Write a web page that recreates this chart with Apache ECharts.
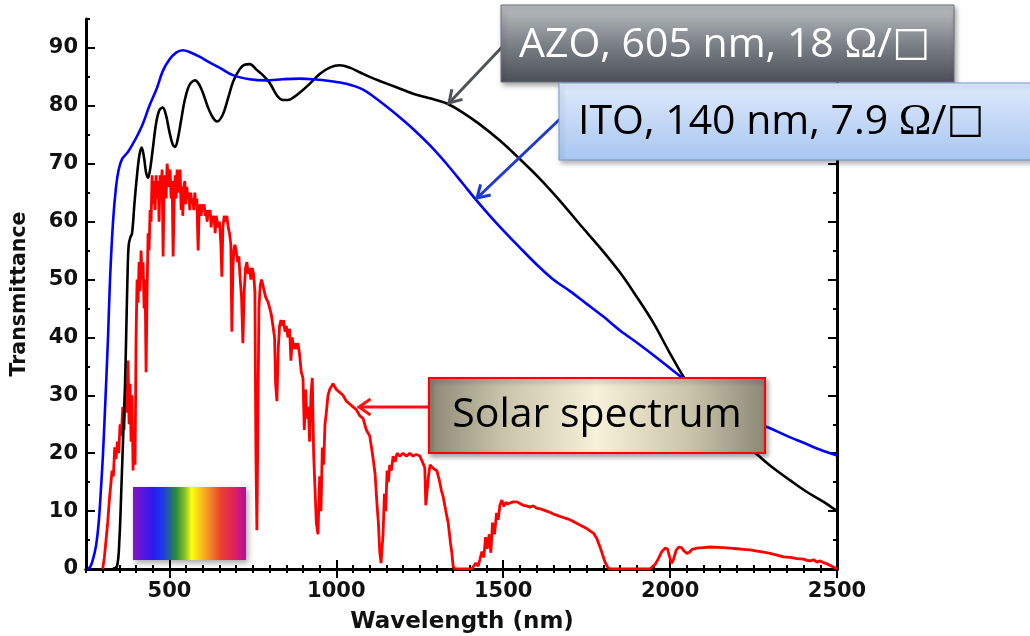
<!DOCTYPE html>
<html>
<head>
<meta charset="utf-8">
<script src="https://cdn.jsdelivr.net/npm/echarts@6/dist/echarts.min.js"></script>
<style>
html,body{margin:0;padding:0;background:#fff;}
#chart{width:1030px;height:636px;}
</style>
</head>
<body>
<div id="chart"></div>
<script>
// ---------- data ----------
const xTickLabels = [500, 1000, 1500, 2000, 2500];
const yTickLabels = [0, 10, 20, 30, 40, 50, 60, 70, 80, 90];

// ITO, 140 nm (blue)
const itoData = [
  [255,0],[262,0.3],[270,1.5],[280,4],[288,8],[295,14],[301,20],[308,29],[316,40],[322,50],[331,60],
  [340,66],[348,69],[358,70.8],[375,72],[391,73.5],[405,75],[421,77],[440,80],[462,83],[480,86],
  [500,88],[520,89.2],[540,89.6],[560,89.3],[590,88.5],[620,87.5],[650,86.6],[690,85.3],[740,84.6],
  [790,84.4],[840,84.6],[890,84.7],[930,84.6],[980,84.3],[1030,83.8],[1080,82.8],[1130,80.8],
  [1180,78.5],[1230,76],[1280,73.2],[1330,70],[1380,66.5],[1418,63.8],[1460,61],[1500,58.5],
  [1550,55.5],[1600,52.6],[1650,50],[1700,48],[1750,45.8],[1800,43.6],[1850,41.2],[1910,38.7],
  [1960,36.5],[2010,34.2],[2060,32],[2110,30],[2160,28.3],[2210,26.6],[2260,25.2],[2300,24.3],
  [2350,23.0],[2400,21.8],[2450,20.6],[2500,19.6]
];

// AZO, 605 nm (black)
const azoData = [
  [330,0],[343,0.5],[350,5],[356,14],[362,24],[367,32],[371,42],[375,52],[378,56],[383,57.3],
  [388,58],[395,63],[402,67.5],[410,71.5],[417,72.8],[424,71],[430,68.5],[436,67.6],[442,69],
  [450,72.5],[460,77],[470,79.3],[480,79.7],[490,78.3],[500,75.5],[510,73.3],[517,72.9],[525,74.3],
  [535,77.5],[546,81],[560,83.6],[577,84.4],[595,83],[615,79.8],[630,78],[643,77.3],[660,78.5],
  [675,81.2],[691,84.2],[710,86.3],[725,87.1],[741,87.2],[760,86.3],[780,85.3],[800,84],[822,81.8],
  [840,81],[855,81],[875,81.6],[891,82.3],[920,83.8],[950,85.5],[980,86.6],[1010,87],[1040,86.6],
  [1070,85.8],[1100,85],[1130,84.3],[1180,83.2],[1230,82.1],[1280,81.3],[1331,80.4],[1380,78.8],
  [1430,76.8],[1490,74],[1550,70.8],[1610,67.4],[1670,63.6],[1730,59.5],[1790,55.5],[1850,51.2],
  [1900,47],[1950,42.5],[2000,37.2],[2040,33.2],[2080,29.8],[2120,27.1],[2160,24.8],[2210,22.2],
  [2260,19.8],[2310,17.4],[2360,15.3],[2410,13.3],[2460,11.6],[2500,10]
];

// Solar spectrum (red)
const solarData = [
  [300,0],[305,2],[310,5],[315,8],[320,12],[325,15],[328,17],[332,16],[336,21],[340,19],[344,22],
  [348,20],[352,25],[356,23],[360,28],[364,24],[368,30],[372,27],[376,36],[379,25],[382,32],[385,22],
  [388,30],[391,17],[394,24],[397,18],[400,40],[403,50],[406,46],[409,53],[412,48],[415,55],[418,50],
  [421,53],[424,45],[427,50],[430,34],[433,48],[436,58],[439,55],[442,62],[445,60],[448,68],[451,63],
  [454,67],[457,62],[460,68],[463,64],[466,67],[469,60],[472,68],[475,65],[478,69],[481,54],[484,66],
  [487,68],[490,64],[493,70],[496,68],[499,66],[502,69],[505,64],[508,67],[511,54],[514,63],[517,68],
  [520,64],[523,69],[526,65],[529,67],[532,69],[535,62],[538,66],[540,61],[543,66],[546,67],[549,63],
  [552,66],[555,64],[558,65],[561,62],[564,65],[567,63],[570,64],[573,62],[576,65],[579,63],[582,64],
  [586,55],[589,62],[592,63],[595,61],[598,63],[601,62],[604,63],[607,61],[610,62],[613,60],[616,62],
  [619,61],[622,62],[625,59],[628,61],[631,60],[634,61],[637,58],[640,61],[643,60],[646,59],[650,60],
  [654,56],[657,50.5],[660,59],[664,61],[668,60],[672,61],[676,59],[680,58],[684,56],[687,41],[690,52],
  [693,55],[696,56],[700,55],[704,53],[708,54],[712,50],[716,47],[720,39],[724,48],[728,52],[732,53],
  [736,51],[740,52],[744,50],[748,52],[752,51],[756,48],[759,20],[762,6.7],[765,25],[768,45],[772,49],
  [776,50],[780,49],[784,48],[788,47],[792,47],[796,46],[800,46],[805,44],[810,44],[815,40],[818,32],
  [822,29],[826,38],[830,42],[834,43],[838,42],[842,43],[846,41],[850,42],[855,40],[860,41.5],[864,36],
  [868,40],[872,38],[876,39],[880,38],[885,39],[890,37],[895,34],[900,33],[904,24],[908,31],[912,26],
  [916,28],[920,22],[924,30],[928,33],[932,20],[936,14],[940,8],[945,6],[950,16],[954,10],[958,21],
  [962,18],[966,25],[970,27],[975,30],[980,31],[985,31.5],[990,32],[1000,31],[1010,30.5],[1020,30],
  [1030,29],[1040,28.5],[1050,28],[1060,27.5],[1070,26.5],[1080,26],[1090,24],[1100,23],[1108,20],
  [1116,16.5],[1122,11],[1126,8],[1130,3],[1134,1],[1137,0.7],[1140,6],[1144,13],[1148,10],[1152,17],
  [1156,15],[1160,18],[1165,17],[1170,19.5],[1176,18.5],[1182,20],[1190,19.5],[1200,20],[1210,19.5],
  [1220,20],[1230,19.5],[1240,19.8],[1250,19.5],[1258,18.5],[1265,17.5],[1268,11],[1272,10.7],
  [1276,16],[1281,18],[1288,17.5],[1295,17.2],[1301,17],[1308,15.5],[1315,13.5],[1320,12.5],[1328,10],
  [1335,8],[1342,4.5],[1346,2.8],[1350,0.5],[1355,0],[1405,0],[1410,0.3],[1418,1],[1425,0.5],
  [1430,1.6],[1436,3],[1442,2],[1447,5.5],[1452,3.5],[1458,6],[1463,2.8],[1468,8],[1474,6],[1480,9.7],
  [1485,8.5],[1490,11],[1496,11.9],[1502,10.8],[1508,11.5],[1514,11.2],[1520,11.4],[1530,11.6],
  [1541,11.6],[1550,11.3],[1560,11],[1570,10.9],[1580,10.7],[1590,10.9],[1600,10.5],[1610,10.4],
  [1620,10.2],[1630,10],[1640,9.8],[1650,9.5],[1660,9.3],[1670,9.1],[1680,8.9],[1690,8.7],[1700,8.5],
  [1710,8.2],[1720,7.9],[1730,7.6],[1740,7.3],[1750,7],[1760,6.6],[1770,6.2],[1780,5.3],[1790,3.8],
  [1798,2.4],[1805,1.2],[1812,0.4],[1818,0],[1940,0],[1955,0.8],[1965,1.8],[1975,3.0],[1985,3.6],
  [1992,3.5],[1998,2.2],[2004,1.0],[2010,1.6],[2018,3.2],[2026,3.8],[2034,3.7],[2042,3.1],[2050,2.7],
  [2058,2.9],[2066,3.4],[2080,3.6],[2100,3.7],[2120,3.8],[2140,3.75],[2160,3.7],[2180,3.6],[2200,3.5],
  [2220,3.4],[2240,3.3],[2260,3.1],[2280,2.9],[2300,2.7],[2320,2.4],[2340,2.1],[2360,2.0],[2380,1.8],
  [2400,1.7],[2410,1.5],[2420,1.4],[2430,1.6],[2440,1.2],[2450,1.4],[2460,1.1],[2470,0.9],[2480,0.6],
  [2490,0.3],[2500,0]
];

// ---------- chart ----------
const chart = echarts.init(document.getElementById('chart'), null, {renderer: 'canvas'});

const tickFont = {fontFamily: '"DejaVu Sans", sans-serif', fontWeight: 'bold', fontSize: 21, color: '#111'};
const axisLineStyle = {show: true, lineStyle: {color: '#000', width: 3}};
const X_MIN = 250, X_MAX = 2500, Y_MIN = 0, Y_MAX = 95;

function xAx(pos, major, withLabels) {
  return {
    type: 'value', min: X_MIN, max: X_MAX, interval: 50, position: pos, gridIndex: 0,
    axisLine: major ? {show: false} : axisLineStyle,
    axisTick: major
      ? {show: true, inside: true, length: 9, lineStyle: {color: '#000', width: 2}, customValues: xTickLabels}
      : {show: true, inside: true, length: 4, lineStyle: {color: '#000', width: 2}},
    axisLabel: withLabels
      ? Object.assign({show: true, margin: 12, customValues: xTickLabels,
          formatter: v => (xTickLabels.indexOf(v) >= 0 ? String(v) : '')}, tickFont)
      : {show: false},
    splitLine: {show: false}
  };
}
function yAx(pos, major, withLabels) {
  return {
    type: 'value', min: Y_MIN, max: Y_MAX, interval: 5, position: pos, gridIndex: 0,
    axisLine: major ? {show: false} : axisLineStyle,
    axisTick: major
      ? {show: true, inside: true, length: 9, lineStyle: {color: '#000', width: 2}, customValues: yTickLabels}
      : {show: true, inside: true, length: 4, lineStyle: {color: '#000', width: 2}},
    axisLabel: withLabels
      ? Object.assign({show: true, margin: 8, customValues: yTickLabels,
          formatter: v => (yTickLabels.indexOf(v) >= 0 ? String(v) : '')}, tickFont)
      : {show: false},
    splitLine: {show: false}
  };
}

const yMain = yAx('left', false, true);
yMain.name = 'Transmittance';
yMain.nameLocation = 'middle';
yMain.nameGap = 56;
yMain.nameRotate = 90;
yMain.nameTextStyle = {fontFamily: '"DejaVu Sans", sans-serif', fontWeight: 'bold', fontSize: 20.5, color: '#111'};

function arrowHead(tipX, tipY, fromX, fromY, len, spread) {
  const ang = Math.atan2(fromY - tipY, fromX - tipX);
  return [
    [tipX + len * Math.cos(ang + spread), tipY + len * Math.sin(ang + spread)],
    [tipX, tipY],
    [tipX + len * Math.cos(ang - spread), tipY + len * Math.sin(ang - spread)]
  ];
}

const annFont = '"Open Sans", sans-serif';

const option = {
  animation: false,
  backgroundColor: '#fff',
  grid: {left: 86, right: 193, top: 19, bottom: 67, containLabel: false},
  xAxis: [xAx('bottom', false, true), xAx('bottom', true, false), xAx('top', false, false), xAx('top', true, false)],
  yAxis: [yMain, yAx('left', true, false), yAx('right', false, false), yAx('right', true, false)],
  series: [
    {type: 'line', name: 'Solar spectrum', data: solarData, xAxisIndex: 0, yAxisIndex: 0,
     showSymbol: false, lineStyle: {color: '#ff0000', width: 2.8}, z: 2},
    {type: 'line', name: 'AZO', data: azoData, xAxisIndex: 0, yAxisIndex: 0, smooth: 0.35,
     showSymbol: false, lineStyle: {color: '#000', width: 2.6}, z: 3},
    {type: 'line', name: 'ITO', data: itoData, xAxisIndex: 0, yAxisIndex: 0, smooth: 0.35,
     showSymbol: false, lineStyle: {color: '#0000ff', width: 2.6}, z: 4}
  ],
  graphic: [
    // x-axis title
    {type: 'text', x: 462, y: 622, z: 10,
     style: {text: 'Wavelength (nm)', fontFamily: '"DejaVu Sans", sans-serif', fontWeight: 'bold', fontSize: 23,
             fill: '#111', textAlign: 'center', textVerticalAlign: 'middle'}},
    // visible spectrum swatch
    {type: 'rect', shape: {x: 133, y: 487, width: 113, height: 73}, z: 20,
     style: {fill: new echarts.graphic.LinearGradient(0, 0, 1, 0, [
        {offset: 0, color: '#8a10c6'}, {offset: 0.18, color: '#2a1cf0'}, {offset: 0.26, color: '#1a3ae6'},
        {offset: 0.38, color: '#2a8a40'}, {offset: 0.46, color: '#8cc02a'}, {offset: 0.52, color: '#ffff10'},
        {offset: 0.64, color: '#f6a623'}, {offset: 0.78, color: '#e84030'}, {offset: 0.9, color: '#e02060'},
        {offset: 1, color: '#b0109c'}]),
        shadowBlur: 6, shadowOffsetX: 2, shadowOffsetY: 3, shadowColor: 'rgba(0,0,0,0.35)'}},

    // AZO arrow
    {type: 'line', z: 20, shape: {x1: 503, y1: 46, x2: 449, y2: 103},
     style: {stroke: '#4e5358', lineWidth: 3}},
    {type: 'polyline', z: 20, shape: {points: arrowHead(449, 103, 503, 46, 14, 0.55)},
     style: {stroke: '#4e5358', lineWidth: 3, fill: null}},
    // AZO box
    {type: 'rect', z: 21, shape: {x: 501, y: 5, width: 453, height: 77},
     style: {fill: new echarts.graphic.LinearGradient(0, 0, 0, 1, [
        {offset: 0, color: '#bcc0c4'}, {offset: 0.5, color: '#7d8288'}, {offset: 1, color: '#4a4f57'}]),
        stroke: '#6c7076', lineWidth: 1, shadowBlur: 5, shadowOffsetX: 2, shadowOffsetY: 3, shadowColor: 'rgba(0,0,0,0.35)'}},
    {type: 'text', z: 22, x: 519, y: 45,
     style: {text: '{a|AZO, 605 nm, 18 }{s|Ω}{a|/}{b|□}', textVerticalAlign: 'middle',
        rich: {a: {fontFamily: annFont, fontSize: 41, fill: '#fff'},
               s: {fontFamily: '"Liberation Serif", serif', fontSize: 44, fill: '#fff'},
               b: {fontFamily: '"DejaVu Sans", sans-serif', fontSize: 40, fill: '#fff'}}}},

    // ITO arrow
    {type: 'line', z: 20, shape: {x1: 561, y1: 118, x2: 477, y2: 198},
     style: {stroke: '#1f3ad0', lineWidth: 3}},
    {type: 'polyline', z: 20, shape: {points: arrowHead(477, 198, 561, 118, 14, 0.55)},
     style: {stroke: '#1f3ad0', lineWidth: 3, fill: null}},
    // ITO box
    {type: 'rect', z: 23, shape: {x: 559, y: 83, width: 490, height: 77},
     style: {fill: new echarts.graphic.LinearGradient(0, 0, 0, 1, [
        {offset: 0, color: '#dfeafc'}, {offset: 1, color: '#a8c6f0'}]),
        stroke: '#6f9bd6', lineWidth: 1, shadowBlur: 5, shadowOffsetX: 2, shadowOffsetY: 3, shadowColor: 'rgba(0,0,0,0.3)'}},
    {type: 'text', z: 24, x: 578, y: 122,
     style: {text: '{a|ITO, 140 nm, 7.9 }{s|Ω}{a|/}{b|□}', textVerticalAlign: 'middle',
        rich: {a: {fontFamily: annFont, fontSize: 41, fill: '#000'},
               s: {fontFamily: '"Liberation Serif", serif', fontSize: 44, fill: '#000'},
               b: {fontFamily: '"DejaVu Sans", sans-serif', fontSize: 40, fill: '#000'}}}},

    // Solar arrow
    {type: 'line', z: 20, shape: {x1: 430, y1: 407, x2: 359, y2: 407},
     style: {stroke: '#ff1010', lineWidth: 3}},
    {type: 'polyline', z: 20, shape: {points: arrowHead(359, 407, 430, 407, 14, 0.6)},
     style: {stroke: '#ff1010', lineWidth: 3, fill: null}},
    // Solar box
    {type: 'rect', z: 21, shape: {x: 429, y: 378, width: 336, height: 75},
     style: {fill: new echarts.graphic.LinearGradient(0, 0, 1, 0, [
        {offset: 0, color: '#8c8877'}, {offset: 0.22, color: '#c9c3a9'}, {offset: 0.5, color: '#f8f1da'},
        {offset: 0.78, color: '#c9c3a9'}, {offset: 1, color: '#8c8877'}]),
        stroke: '#ff0000', lineWidth: 2, shadowBlur: 5, shadowOffsetX: 2, shadowOffsetY: 3, shadowColor: 'rgba(0,0,0,0.35)'}},
    {type: 'text', z: 22, x: 597, y: 415,
     style: {text: 'Solar spectrum', fontFamily: annFont, fontSize: 41, fill: '#000',
             textAlign: 'center', textVerticalAlign: 'middle'}}
  ]
};
chart.setOption(option);
</script>
</body>
</html>
